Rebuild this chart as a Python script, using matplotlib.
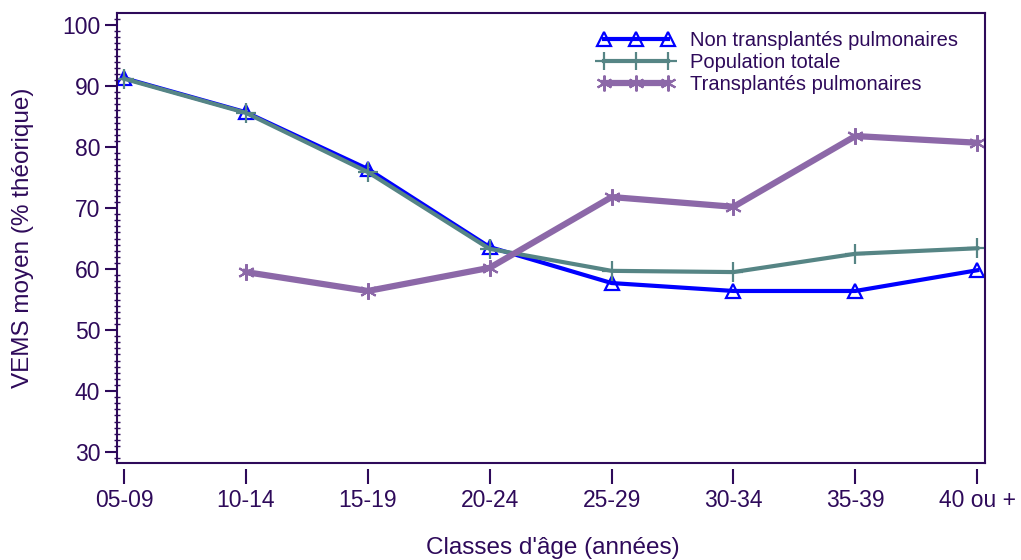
import matplotlib
matplotlib.use("Agg")
import matplotlib.pyplot as plt
from matplotlib.ticker import MultipleLocator
import numpy as np

categories = ["05-09", "10-14", "15-19", "20-24", "25-29", "30-34", "35-39", "40 ou +"]
non_transplantes = [91.3, 85.7, 76.4, 63.6, 57.7, 56.4, 56.4, 59.8]
population_totale = [91.2, 85.6, 75.9, 63.3, 59.7, 59.5, 62.5, 63.4]
transplantes = [np.nan, 59.5, 56.4, 60.2, 71.8, 70.2, 81.8, 80.7]

txt = "#2e0a5a"
c_blue = "#0000ff"
c_teal = "#568585"
c_purple = "#8c68a8"

plt.rcParams['font.family'] = ['Liberation Sans', 'DejaVu Sans']

fig = plt.figure(figsize=(10.21, 5.6), dpi=100)
ax = fig.add_axes([117/1021, 1-463/560, (985-117)/1021, (463-13)/560])

# spine repositioning first (it resets ticks)
for s in ['left', 'top', 'right']:
    ax.spines[s].set_color(txt)
    ax.spines[s].set_linewidth(1.5)
ax.spines['bottom'].set_position(('outward', 4))
ax.spines['bottom'].set_visible(False)
ax.plot([0, 1], [0, 0], transform=ax.transAxes, color=txt, lw=1.5, clip_on=False)

x = np.arange(len(categories))
ax.plot(x, non_transplantes, color=c_blue, lw=3, marker='^', ms=10,
        mfc='none', mec=c_blue, mew=1.6, label="Non transplantés pulmonaires")
ax.plot(x, population_totale, color=c_teal, lw=3, marker='+', ms=14,
        mec=c_teal, mew=1.6, label="Population totale")
ax.plot(x, transplantes, color=c_purple, lw=4.5, marker=(6, 2, 0), ms=12,
        mec=c_purple, mew=1.5, label="Transplantés pulmonaires")

ax.set_xlim(-0.057, 7.063)
ax.set_ylim(28.2, 101.97)

ax.set_xticks(x)
ax.set_xticklabels(categories)
ax.yaxis.set_minor_locator(MultipleLocator(1))
ax.set_yticks(np.arange(30, 101, 10))

ax.tick_params(axis='y', which='major', direction='out', length=9, width=1.5, color=txt,
               pad=3, labelsize=16.5, labelcolor=txt)
ax.tick_params(axis='y', which='minor', direction='inout', length=4, width=1, color=txt)
ax.tick_params(axis='x', which='major', direction='out', length=11, width=1.5, color=txt,
               pad=4, labelsize=16.5, labelcolor=txt)

ax.set_ylabel("VEMS moyen (% théorique)", fontsize=17.5, color=txt, labelpad=20)
fig.text(553/1021, 1-548/560, "Classes d'âge (années)", fontsize=17.5, color=txt,
         ha='center', va='center')

leg = ax.legend(loc='upper right', bbox_to_anchor=(0.99, 1.0), frameon=False,
                prop={'size': 14.5}, handlelength=3.8, handletextpad=0.8, labelspacing=0.15,
                numpoints=3, markerscale=0.95)
for t in leg.get_texts():
    t.set_color(txt)

fig.savefig("out.png", dpi=100)
